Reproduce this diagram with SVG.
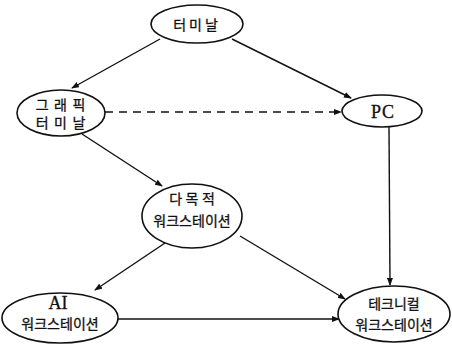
<svg xmlns="http://www.w3.org/2000/svg" width="452" height="348" viewBox="0 0 452 348">
<defs>
<marker id="ah" markerWidth="8" markerHeight="6" refX="7" refY="3" orient="auto" markerUnits="userSpaceOnUse">
<path d="M0,0 L8,3 L0,6 Z" fill="#111"/>
</marker>
<style>
ellipse{fill:#fff;stroke:#111;stroke-width:1.6}
text{font-family:"Liberation Serif","Noto Sans CJK KR",serif;font-size:14px;fill:#111;stroke:#111;stroke-width:0.3;text-anchor:middle}
text.big{font-size:18px}
.c line{stroke:#111;stroke-width:1.4;marker-end:url(#ah)}
</style>
</defs>
<rect width="452" height="348" fill="#fff"/>
<g class="c" id="connectors">
<line x1="160" y1="39" x2="72" y2="88"/>
<line x1="232" y1="39" x2="351" y2="98"/>
<line x1="105" y1="112" x2="341" y2="112" stroke-dasharray="8,6"/>
<line x1="82" y1="134" x2="162" y2="186"/>
<line x1="389" y1="127" x2="390" y2="285"/>
<line x1="168" y1="241" x2="95" y2="290"/>
<line x1="240" y1="236" x2="345" y2="299"/>
<line x1="118" y1="319" x2="339" y2="319"/>
</g>
<g id="n1"><ellipse cx="197" cy="24" rx="46" ry="19"/><text x="197" y="30" letter-spacing="3">터미날</text></g>
<g id="n2"><ellipse cx="61" cy="113" rx="44" ry="23"/><text x="61" y="110" letter-spacing="1">그 래 픽</text><text x="61" y="128" letter-spacing="1">터 미 날</text></g>
<g id="n3"><ellipse cx="382" cy="111" rx="40" ry="16"/><text class="big" x="383" y="118" letter-spacing="1">PC</text></g>
<g id="n4"><ellipse cx="192" cy="216" rx="50" ry="32"/><text x="192" y="204">다 목 적</text><text x="192" y="226">워크스테이션</text></g>
<g id="n5"><ellipse cx="60" cy="318" rx="58" ry="25"/><text class="big" x="58" y="309">AI</text><text x="60" y="329">워크스테이션</text></g>
<g id="n6"><ellipse cx="394" cy="314" rx="56" ry="28"/><text x="394" y="309">테크니컬</text><text x="394" y="330">워크스테이션</text></g>
</svg>
